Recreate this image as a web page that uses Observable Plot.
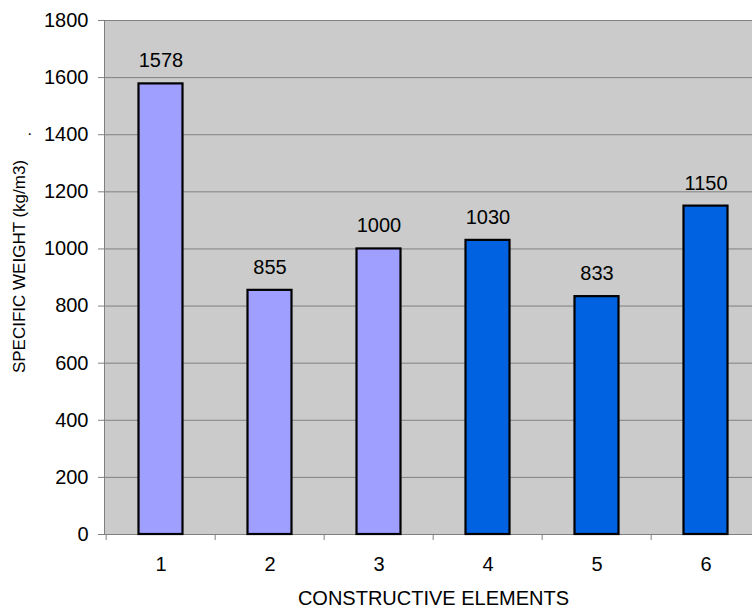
<!DOCTYPE html>
<html>
<head>
<meta charset="utf-8">
<script src="https://cdn.jsdelivr.net/npm/d3@7"></script>
<script src="https://cdn.jsdelivr.net/npm/@observablehq/plot@0.6"></script>
<style>
  body { margin: 0; background: #fff; }
</style>
</head>
<body>
<div id="chart"></div>
<script>
// Specific weight of each constructive element
const elements = ["1", "2", "3", "4", "5", "6"];
const weights = [1578, 855, 1000, 1030, 833, 1150];
const groups = ["A", "A", "A", "B", "B", "B"];
const yTicks = [0, 200, 400, 600, 800, 1000, 1200, 1400, 1600, 1800];
const xTitle = "CONSTRUCTIVE ELEMENTS";
const yTitle = "SPECIFIC WEIGHT (kg/m3)";

const data = elements.map((e, i) => ({element: e, weight: weights[i], group: groups[i]}));

// the category band runs a little past the right edge of the figure
const xRange = [104, 762];
const step = (xRange[1] - xRange[0]) / elements.length;
const grid = "#808080";

const chart = Plot.plot({
  width: 752,
  height: 609,
  marginLeft: 104,
  marginTop: 20,
  marginBottom: 75,
  marginRight: 0,
  style: {fontFamily: "'Liberation Sans', Arial, sans-serif", background: "#fff", color: "#000"},
  x: {type: "band", domain: elements, range: xRange, padding: 0},
  y: {domain: [0, 1800]},
  color: {domain: ["A", "B"], range: ["#9f9fff", "#0062e0"]},
  marks: [
    Plot.frame({fill: "#cbcbcb", stroke: grid, insetRight: -4}),
    Plot.gridY(yTicks, {stroke: grid, strokeOpacity: 1}),
    Plot.barY(data, {
      x: "element", y: "weight", fill: "group",
      stroke: "#000", strokeWidth: 2.2, insetLeft: 32.5, insetRight: 32.5
    }),
    Plot.text(data, {
      x: "element", y: "weight", text: d => String(d.weight),
      dy: -23, fontSize: 20, fill: "#000"
    }),
    Plot.axisY({ticks: yTicks, tickFormat: d => String(d), tickSize: 6, tickPadding: 10, fontSize: 20, stroke: grid, fill: "#000", label: null}),
    Plot.axisX({tickSize: 0, tickPadding: 22, fontSize: 20, fill: "#000", label: null}),
    // tick marks sit on the boundaries between categories
    Plot.axisX({tickSize: 6, tickFormat: () => "", stroke: grid, dx: -step / 2, label: null}),
    Plot.text([xTitle], {frameAnchor: "bottom", lineAnchor: "middle", dy: 64, dx: 5, fontSize: 20, fill: "#000"}),
    Plot.text([yTitle], {frameAnchor: "left", rotate: -90, textAnchor: "middle", lineAnchor: "middle", dx: -85, dy: -11, fontSize: 17, fill: "#000"}),
    Plot.text([1400], {y: d => d, text: () => ".", frameAnchor: "left", dx: -77, dy: -5, fontSize: 16, fill: "#000"})
  ]
});

document.getElementById("chart").append(chart);
</script>
</body>
</html>
